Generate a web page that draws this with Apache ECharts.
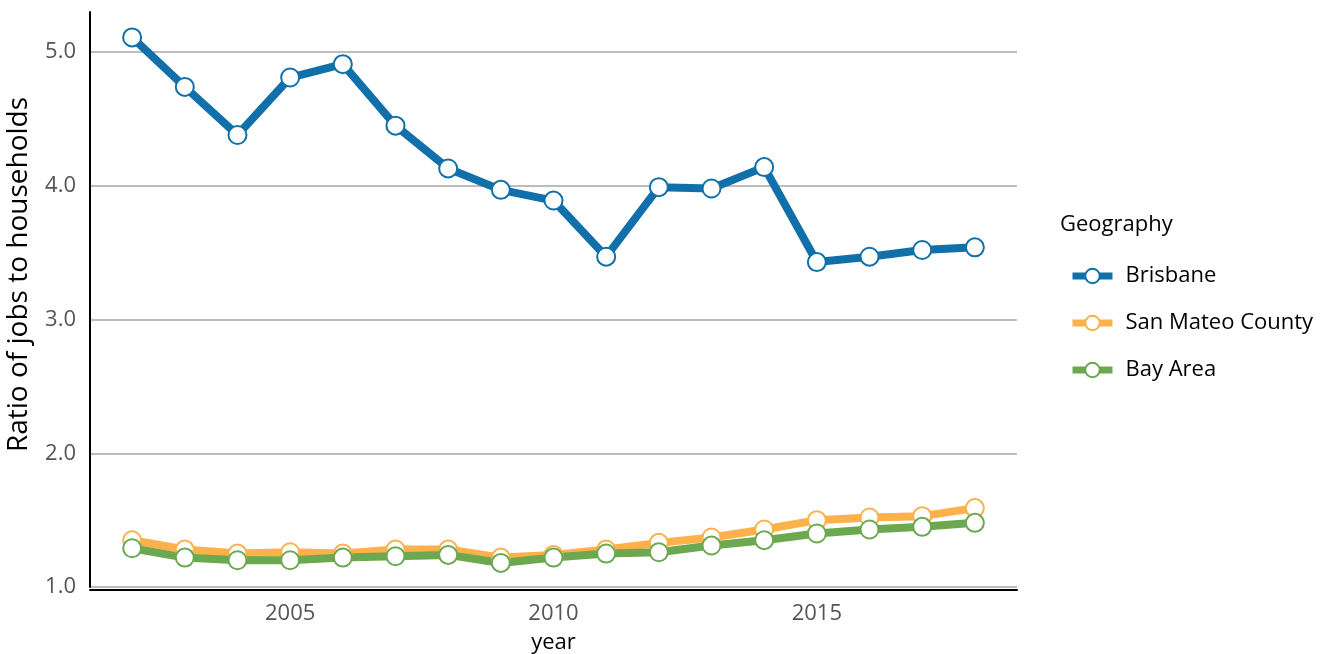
<!DOCTYPE html>
<html>
<head>
<meta charset="utf-8">
<script src="https://cdn.jsdelivr.net/npm/echarts@6/dist/echarts.min.js"></script>
<style>
html,body{margin:0;padding:0;background:#fff;}
#c{width:1325px;height:654px;}
</style>
</head>
<body>
<div id="c"></div>
<script>
const years = [2002,2003,2004,2005,2006,2007,2008,2009,2010,2011,2012,2013,2014,2015,2016,2017,2018];
const brisbane = [5.11,4.74,4.38,4.81,4.91,4.45,4.13,3.97,3.89,3.47,3.99,3.98,4.14,3.43,3.47,3.52,3.54];
const sanMateo = [1.35,1.28,1.25,1.26,1.25,1.28,1.28,1.22,1.24,1.28,1.33,1.37,1.43,1.50,1.52,1.53,1.59];
const bayArea = [1.29,1.22,1.20,1.20,1.22,1.23,1.24,1.18,1.22,1.25,1.26,1.31,1.35,1.40,1.43,1.45,1.48];
const seriesNames = ['Brisbane','San Mateo County','Bay Area'];
const colors = ['#1170aa','#fcb14a','#6ba84f'];
const yTicks = [1,2,3,4,5];

const FONT = 'Open Sans';
const chart = echarts.init(document.getElementById('c'), null, {renderer:'canvas'});

function mk(name, vals, color){
  return {
    name: name,
    type: 'line',
    data: years.map((y,i)=>[y, vals[i]]),
    symbol: 'circle',
    symbolSize: 18,
    showSymbol: true,
    lineStyle: {color: color, width: 8},
    itemStyle: {color: '#ffffff', borderColor: color, borderWidth: 2},
    emphasis: {disabled: true},
    animation: false
  };
}

chart.setOption({
  animation: false,
  textStyle: {fontFamily: FONT},
  title: {
    text: 'Geography',
    left: 1055, top: 209,
    textStyle: {fontFamily: FONT, fontSize: 22, fontWeight: 'normal', color: '#000'}
  },
  legend: {
    orient: 'vertical',
    left: 1064, top: 260,
    itemWidth: 40, itemHeight: 18,
    itemGap: 25,
    lineStyle: {width: 7},
    itemStyle: {borderWidth: 2},
    textStyle: {fontFamily: FONT, fontSize: 22, color: '#000', padding: [0,0,0,8]},
    data: seriesNames
  },
  grid: {left: 90, right: 308, top: 12, bottom: 67, containLabel: false, outerBoundsMode: 'none'},
  xAxis: {
    type: 'value',
    min: 2001.2, max: 2018.8, interval: 0.2,
    offset: 3,
    name: 'year',
    nameLocation: 'middle',
    nameGap: 42,
    nameTextStyle: {fontFamily: FONT, fontSize: 22, color: '#000'},
    axisLine: {show: true, lineStyle: {color: '#000', width: 2}},
    axisTick: {show: false},
    splitLine: {show: false},
    axisLabel: {
      fontFamily: FONT, fontSize: 22, color: '#555', margin: 13,
      showMinLabel: false, showMaxLabel: false,
      formatter: function(v){
        const r = Math.round(v);
        if (Math.abs(v - r) < 1e-6 && r % 5 === 0) return String(r);
        return '';
      }
    }
  },
  yAxis: {
    type: 'value',
    min: 1, max: 5.3, interval: 1,
    name: 'Ratio of jobs to households',
    nameLocation: 'middle',
    nameGap: 57,
    nameTextStyle: {fontFamily: FONT, fontSize: 28, color: '#000', padding: [0,0,0,50]},
    axisLine: {show: true, lineStyle: {color: '#000', width: 2}},
    axisTick: {show: false},
    splitLine: {show: true, showMaxLine: false, lineStyle: {color: '#a6a6a6', width: 1.5}},
    axisLabel: {
      fontFamily: FONT, fontSize: 22, color: '#555', margin: 14,
      showMaxLabel: false,
      formatter: function(v){ return yTicks.indexOf(Math.round(v*10)/10) >= 0 ? v.toFixed(1) : ''; }
    }
  },
  series: [mk(seriesNames[0], brisbane, colors[0]), mk(seriesNames[1], sanMateo, colors[1]), mk(seriesNames[2], bayArea, colors[2])]
});
</script>
</body>
</html>
